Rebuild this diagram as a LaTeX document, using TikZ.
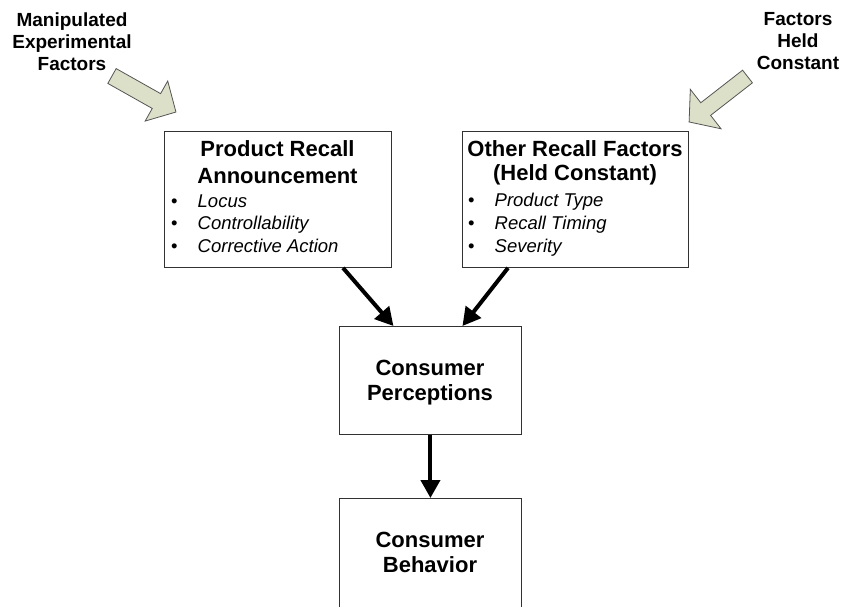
\documentclass[tikz,border=0pt]{standalone}
\usepackage{fontspec}
\setmainfont{Liberation Sans}
\usetikzlibrary{arrows.meta,calc}

\definecolor{blockfill}{RGB}{221,224,201}
\definecolor{blockedge}{RGB}{85,85,85}
\definecolor{boxedge}{RGB}{50,50,50}

% centred bold lines, aligned on the baseline of the first line
\newcommand\boldstack[3]{{\fontsize{#1}{#2}\selectfont\bfseries
  \begin{tabular}[t]{@{}c@{}}#3\end{tabular}}}
% bulleted italic list, aligned on the baseline of the first item
\newcommand\bulletlist[2]{{\fontsize{18.5}{#1}\selectfont
  \begin{tabular}[t]{@{}p{26.5pt}@{}l@{}}#2\end{tabular}}}

\begin{document}
\begin{tikzpicture}[x=1pt,y=-1pt,
  box/.style={draw=boxedge, line width=0.9pt, fill=white, inner sep=0pt, anchor=north west},
  txt/.style={inner sep=0pt, anchor=base},
  lst/.style={inner sep=0pt, anchor=base west},
  flow/.style={line width=4pt, -{Triangle[length=18pt,width=19pt]}},
  blockarrow/.style={draw=blockedge, line width=0.8pt, fill=blockfill, line join=miter}]

\clip (0,0) rectangle (846,606);
\fill[white] (0,0) rectangle (846,606);

% outside influences
\node[txt] (manip) at (72,26.7)
  {\boldstack{19}{22}{Manipulated\\Experimental\\Factors}};
\node[txt] (held) at (798,25)
  {\boldstack{19}{22}{Factors\\Held\\Constant}};

\draw[blockarrow, shift={(112,76)}, rotate=-29.4]
  (0,-8.5) -- (51,-8.5) -- (51,-23) -- (73.4,0) -- (51,23) -- (51,8.5) -- (0,8.5) -- cycle;
\draw[blockarrow, shift={(747.5,76.5)}, rotate=217.9]
  (0,-8) -- (53,-8) -- (53,-25) -- (74,0) -- (53,25) -- (53,8) -- (0,8) -- cycle;

% boxes
\node[box, minimum width=227pt, minimum height=136pt] (pra) at (164,131) {};
\node[box, minimum width=226pt, minimum height=136pt] (orf) at (462,131) {};
\node[box, minimum width=182pt, minimum height=108pt] (cp)  at (339,326) {};
\node[box, minimum width=182pt, minimum height=140pt] (cb)  at (339,498) {};

% box texts
\node[txt] (pra-title) at (277.5,156.7)
  {\boldstack{22}{26.6}{Product Recall\\Announcement}};
\node[lst] (pra-list) at (171,207)
  {\bulletlist{22.85}{\textbullet & \textit{Locus}\\
                      \textbullet & \textit{Controllability}\\
                      \textbullet & \textit{Corrective Action}}};

\node[txt] (orf-title) at (575,156.7)
  {\boldstack{22}{24}{Other Recall Factors\\(Held Constant)}};
\node[lst] (orf-list) at (468,206)
  {\bulletlist{23.4}{\textbullet & \textit{Product Type}\\
                     \textbullet & \textit{Recall Timing}\\
                     \textbullet & \textit{Severity}}};

\node[txt] (cp-text) at (430,375) {\boldstack{22}{25}{Consumer\\Perceptions}};
\node[txt] (cb-text) at (430,547) {\boldstack{22}{25}{Consumer\\Behavior}};

% connectors
\draw[flow] ($(pra.south west)+(179,0)$) -- ($(cp.north)+(-37,0)$);
\draw[flow] ($(orf.south west)+(46,0)$) -- ($(cp.north)+(32,0)$);
\draw[flow] (cp.south) -- (cb.north);
\end{tikzpicture}
\end{document}
